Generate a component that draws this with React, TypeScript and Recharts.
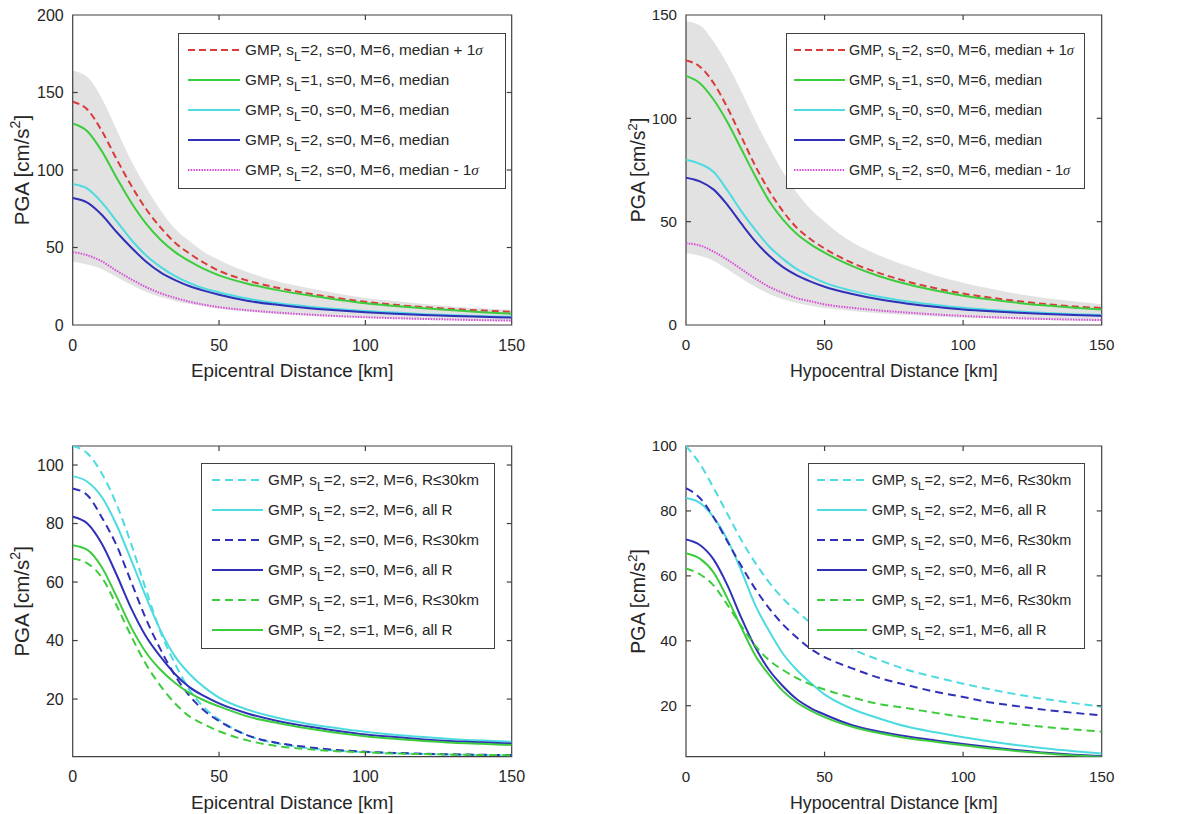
import { Area, ComposedChart, Legend, Line, ReferenceArea, ReferenceLine, XAxis, YAxis } from "recharts";

const FONT = '"Liberation Sans", Arial, Helvetica, sans-serif';
const AXIS_COLOR = "#404040";
const TEXT_COLOR = "#262626";
const BAND_COLOR = "#e2e2e2";

const RED = "#d93a3a";
const GREEN = "#3dcc3d";
const CYAN = "#4ddbe0";
const BLUE = "#3030b8";
const MAGENTA = "#d84dd8";

// distance in km, shared by all four panels
const DIST = [0, 5, 10, 15, 20, 25, 30, 35, 40, 45, 50, 60, 70, 80, 90, 100, 110, 120, 130, 140, 150];

const X_TICKS = [0, 50, 100, 150];
const X_DOMAIN: [number, number] = [0, 150];

// top left: epicentral distance, median curves and +-1 sigma band
const EPI_PLUS = [144, 139, 125, 107, 90, 75, 63, 53, 46, 40, 35, 28.5, 24, 20.5, 17.5, 15, 13, 11.5, 10.3, 9.3, 8.5];
const EPI_SL1 = [130, 125, 112, 95, 79, 65.5, 55, 47, 41, 36, 32, 26.5, 22.5, 19.3, 16.5, 14, 12.3, 10.8, 9.5, 8.3, 7.3];
const EPI_SL0 = [91, 88, 79, 67, 55, 45, 37.5, 31.5, 27, 23.5, 21, 17, 14, 12, 10.3, 9, 8, 7, 6.3, 5.7, 5.3];
const EPI_SL2 = [82, 79, 71, 60, 50, 41, 34, 29, 25, 22, 19.5, 15.5, 13, 11, 9.5, 8.2, 7.2, 6.4, 5.8, 5.3, 4.8];
const EPI_MINUS = [47, 45, 41, 35, 29.5, 24.5, 20.5, 17.5, 15, 13, 11.5, 9.5, 8, 6.8, 5.8, 5, 4.4, 3.9, 3.5, 3.1, 2.8];
const EPI_BAND_HI = [164, 160, 146, 126, 106, 89, 74, 62, 54, 47, 42, 34, 28, 24, 20.5, 17.5, 15.5, 13.5, 12, 10.8, 9.8];
const EPI_BAND_LO = [41, 39, 36, 31, 26, 21.5, 18, 15.5, 13.5, 12, 10.5, 8.5, 7, 6, 5.2, 4.5, 4, 3.5, 3.1, 2.8, 2.5];

// top right: hypocentral distance
const HYP_PLUS = [128, 125, 117, 105, 91, 77, 65, 55, 47, 41.5, 37, 30, 25, 21, 17.8, 15.2, 13.2, 11.5, 10.1, 9, 8.2];
const HYP_SL1 = [120.5, 117, 109, 98, 85, 72, 60, 51, 44, 39, 35, 28.5, 23.5, 19.7, 16.7, 14.2, 12.3, 10.7, 9.4, 8.4, 7.5];
const HYP_SL0 = [80, 78, 74, 65, 55, 46, 38, 32, 27, 23.5, 20.5, 16.5, 13.5, 11.4, 9.7, 8.3, 7.3, 6.5, 5.8, 5.2, 4.8];
const HYP_SL2 = [71.3, 69.5, 65.5, 58, 49, 40.5, 33.5, 28, 24, 21, 18.5, 15, 12.3, 10.3, 8.8, 7.5, 6.6, 5.9, 5.3, 4.8, 4.4];
const HYP_MINUS = [39.5, 38.5, 35.5, 31.5, 27, 22.5, 18.5, 15.5, 13, 11.5, 10, 8.3, 7, 6, 5.1, 4.4, 3.8, 3.3, 2.9, 2.6, 2.4];
const HYP_BAND_HI = [147, 145, 137, 126, 113, 99, 86, 74, 64, 56, 50, 40, 33.5, 28.5, 24, 20.5, 17.5, 15, 13, 11.5, 10];
const HYP_BAND_LO = [34.7, 33.5, 31, 27, 22.5, 18.5, 15, 12.5, 10.7, 9.3, 8.2, 6.8, 5.7, 4.8, 4.1, 3.5, 3.1, 2.7, 2.4, 2.2, 2];

// bottom left: epicentral, fitted on R<=30km vs all R
const EPI_S2_R30 = [106.5, 104, 97, 86.5, 73, 57.5, 43, 32, 23, 17, 13, 7.5, 4.8, 3.3, 2.4, 1.9, 1.5, 1.2, 1, 0.9, 0.8];
const EPI_S2_ALL = [96.2, 94.3, 89, 79.5, 67.5, 55, 43.5, 34.5, 28.5, 24, 20.5, 16.3, 13.6, 11.6, 10.1, 8.8, 7.8, 7, 6.3, 5.8, 5.4];
const EPI_S0_R30 = [92, 89.7, 82, 72.5, 60, 47.5, 37, 28, 21, 16, 12.5, 7.5, 5, 3.6, 2.6, 2, 1.6, 1.3, 1.1, 0.95, 0.85];
const EPI_S0_ALL = [82.3, 80, 73, 62.5, 51, 41.5, 34.5, 28.5, 24, 21, 18.5, 15, 12.5, 10.7, 9.2, 7.9, 7, 6.2, 5.6, 5.2, 4.8];
const EPI_S1_R30 = [68, 66.4, 61.5, 52, 41.5, 32, 24.5, 18.5, 14, 11.3, 9, 5.8, 3.9, 2.9, 2.2, 1.8, 1.4, 1.2, 1, 0.9, 0.8];
const EPI_S1_ALL = [72.6, 71, 65, 55, 44.5, 36, 30, 25.5, 22, 19.5, 17.5, 14, 11.8, 10, 8.5, 7.3, 6.4, 5.7, 5.1, 4.7, 4.3];

// bottom right: hypocentral
const HYP_S2_R30 = [100, 94.5, 87, 79, 71, 64, 58, 53, 49, 45.5, 42.5, 37.5, 34, 31, 28.8, 26.8, 25, 23.4, 22, 20.8, 19.7];
const HYP_S2_ALL = [84, 82.5, 78, 71, 61.5, 51, 43, 36, 31, 27, 23.5, 19, 16, 13.5, 11.8, 10.3, 9, 7.8, 6.8, 6, 5.3];
const HYP_S0_R30 = [87, 84, 78, 70.5, 63, 56, 50, 45, 41, 37.5, 35, 31.5, 28.5, 26.3, 24.3, 22.7, 21, 19.8, 18.7, 17.8, 17];
const HYP_S0_ALL = [71.2, 69.5, 65, 57, 47, 38, 31, 26, 22, 19.3, 17.3, 14, 12, 10.5, 9.3, 8.2, 7.2, 6.3, 5.5, 4.9, 4.5];
const HYP_S1_R30 = [62.3, 60.5, 57, 51, 44.5, 38.5, 34, 31, 28.5, 26.5, 25, 22.5, 20.5, 19.2, 17.8, 16.5, 15.3, 14.3, 13.4, 12.7, 12];
const HYP_S1_ALL = [67, 65.3, 61, 53, 44, 35.5, 29.5, 24.5, 21, 18.5, 16.5, 13.5, 11.5, 10, 8.9, 7.8, 6.8, 6, 5.3, 4.7, 4.3];

type Series = { key: string; values: number[]; color: string; dash?: string; label: string };

const TOP_LEGEND = [
  "GMP, s_L=2, s=0, M=6, median + 1σ",
  "GMP, s_L=1, s=0, M=6, median",
  "GMP, s_L=0, s=0, M=6, median",
  "GMP, s_L=2, s=0, M=6, median",
  "GMP, s_L=2, s=0, M=6, median - 1σ",
];

const BOTTOM_LEGEND = [
  "GMP, s_L=2, s=2, M=6, R≤30km",
  "GMP, s_L=2, s=2, M=6, all R",
  "GMP, s_L=2, s=0, M=6, R≤30km",
  "GMP, s_L=2, s=0, M=6, all R",
  "GMP, s_L=2, s=1, M=6, R≤30km",
  "GMP, s_L=2, s=1, M=6, all R",
];

const RED_DASH = "7 4";
const DASH = "8 5";
const DOT = "1.5 1.2";
const TICK_PX = 5;

function topSeries(vals: number[][]): Series[] {
  const styles = [
    { color: RED, dash: RED_DASH },
    { color: GREEN },
    { color: CYAN },
    { color: BLUE },
    { color: MAGENTA, dash: DOT },
  ];
  return vals.map((v, i) => ({ key: `s${i}`, values: v, label: TOP_LEGEND[i], ...styles[i] }));
}

function bottomSeries(vals: number[][]): Series[] {
  const styles = [
    { color: CYAN, dash: DASH },
    { color: CYAN },
    { color: BLUE, dash: DASH },
    { color: BLUE },
    { color: GREEN, dash: DASH },
    { color: GREEN },
  ];
  return vals.map((v, i) => ({ key: `s${i}`, values: v, label: BOTTOM_LEGEND[i], ...styles[i] }));
}

type Panel = {
  left: number;
  top: number;
  width: number;
  height: number;
  margin: { top: number; right: number; bottom: number; left: number };
  xLabel: string;
  yDomain: [number, number];
  yTicks: number[];
  band?: { lo: number[]; hi: number[] };
  series: Series[];
  legend: { left: number; top: number; width: number; height: number; lineLeft: number; lineLen: number; gap: number };
  scale: number;
  yTitleOff: number;
};

const Y_AXIS_W = 60;
const X_AXIS_H = 50;

const PANELS: Panel[] = [
  {
    left: 0, top: 0, width: 596, height: 410,
    margin: { top: 15, right: 84.3, bottom: 35, left: 12.7 },
    xLabel: "Epicentral Distance [km]",
    yDomain: [0, 200], yTicks: [0, 50, 100, 150, 200],
    band: { lo: EPI_BAND_LO, hi: EPI_BAND_HI },
    series: topSeries([EPI_PLUS, EPI_SL1, EPI_SL0, EPI_SL2, EPI_MINUS]),
    legend: { left: 178.3, top: 33.3, width: 327.4, height: 156, lineLeft: 9.7, lineLen: 52, gap: 5 },
    scale: 1, yTitleOff: 44,
  },
  {
    left: 596, top: 0, width: 596, height: 410,
    margin: { top: 15, right: 90.3, bottom: 35, left: 30 },
    xLabel: "Hypocentral Distance [km]",
    yDomain: [0, 150], yTicks: [0, 50, 100, 150],
    band: { lo: HYP_BAND_LO, hi: HYP_BAND_HI },
    series: topSeries([HYP_PLUS, HYP_SL1, HYP_SL0, HYP_SL2, HYP_MINUS]),
    legend: { left: 189.7, top: 33.3, width: 299.3, height: 156, lineLeft: 8.3, lineLen: 51, gap: 4 },
    scale: 0.947, yTitleOff: 41,
  },
  {
    left: 0, top: 410, width: 596, height: 404,
    margin: { top: 36, right: 84.3, bottom: 7.3, left: 12.7 },
    xLabel: "Epicentral Distance [km]",
    yDomain: [0.3, 106.5], yTicks: [20, 40, 60, 80, 100],
    series: bottomSeries([EPI_S2_R30, EPI_S2_ALL, EPI_S0_R30, EPI_S0_ALL, EPI_S1_R30, EPI_S1_ALL]),
    legend: { left: 201, top: 53.3, width: 294, height: 186, lineLeft: 10.7, lineLen: 51.3, gap: 5 },
    scale: 1, yTitleOff: 44,
  },
  {
    left: 596, top: 410, width: 596, height: 404,
    margin: { top: 36, right: 90.3, bottom: 7.3, left: 30 },
    xLabel: "Hypocentral Distance [km]",
    yDomain: [4.3, 100], yTicks: [20, 40, 60, 80, 100],
    series: bottomSeries([HYP_S2_R30, HYP_S2_ALL, HYP_S0_R30, HYP_S0_ALL, HYP_S1_R30, HYP_S1_ALL]),
    legend: { left: 211.7, top: 53.3, width: 277.3, height: 186, lineLeft: 9, lineLen: 50, gap: 5 },
    scale: 0.947, yTitleOff: 41,
  },
];

function LegendLabel({ text }: { text: string }) {
  const [head, rest] = text.split("_L");
  const hasSigma = rest.endsWith("σ");
  const body = hasSigma ? rest.slice(0, -1) : rest;
  return (
    <span style={{ whiteSpace: "pre" }}>
      {head}
      <span style={{ fontSize: "0.8em", position: "relative", top: "0.45em", lineHeight: 0 }}>L</span>
      {body}
      {hasSigma && (
        <span style={{ fontFamily: '"Liberation Serif", "DejaVu Serif", serif', fontStyle: "italic" }}>σ</span>
      )}
    </span>
  );
}

function LegendBox({ panel }: { panel: Panel }) {
  const lg = panel.legend;
  const fs = 15.3 * panel.scale;
  return (
    <div
      style={{
        position: "relative",
        width: lg.width,
        height: lg.height,
        boxSizing: "border-box",
        border: `1px solid ${AXIS_COLOR}`,
        background: "#fff",
        fontFamily: FONT,
        fontSize: fs,
        color: TEXT_COLOR,
      }}
    >
      {panel.series.map((s, i) => (
        <div
          key={s.key}
          style={{
            position: "absolute",
            left: lg.lineLeft - 1,
            top: 0.7 + 30 * i,
            height: 30,
            display: "flex",
            alignItems: "center",
          }}
        >
          <svg width={lg.lineLen} height={6} style={{ display: "block" }}>
            <line x1={0} x2={lg.lineLen} y1={3} y2={3} stroke={s.color} strokeWidth={2} strokeDasharray={s.dash} />
          </svg>
          <div style={{ marginLeft: lg.gap, lineHeight: 1 }}>
            <LegendLabel text={s.label} />
          </div>
        </div>
      ))}
    </div>
  );
}

function BottomTick(props: any) {
  const { x, y, payload, fs } = props;
  return (
    <text x={x} y={y + 20 + fs * 0.36} textAnchor="middle" fontSize={fs} fill={TEXT_COLOR}>
      {payload.value}
    </text>
  );
}

function LeftTick(props: any) {
  const { x, y, payload, fs } = props;
  return (
    <text x={x - 9} y={y + fs * 0.36} textAnchor="end" fontSize={fs} fill={TEXT_COLOR}>
      {payload.value}
    </text>
  );
}

function XTitle(props: any) {
  const { viewBox, text, fs } = props;
  const { x, y, width } = viewBox;
  return (
    <text x={x + width / 2} y={y + 52} textAnchor="middle" fontSize={fs} fill={TEXT_COLOR}>
      {text}
    </text>
  );
}

function YTitle(props: any) {
  const { viewBox, fs, off } = props;
  const { x, y, width, height } = viewBox;
  const cx = x + width - off;
  const cy = y + height / 2;
  return (
    <text transform={`rotate(-90 ${cx} ${cy})`} x={cx} y={cy} textAnchor="middle" fontSize={fs} fill={TEXT_COLOR}>
      PGA [cm/s
      <tspan dy={-fs * 0.42} fontSize={fs * 0.7}>2</tspan>
      <tspan dy={fs * 0.42}>]</tspan>
    </text>
  );
}

function PanelChart({ panel }: { panel: Panel }) {
  const rows = DIST.map((d, i) => {
    const row: Record<string, any> = { d };
    if (panel.band) row.band = [panel.band.lo[i], panel.band.hi[i]];
    panel.series.forEach((s) => {
      row[s.key] = s.values[i];
    });
    return row;
  });
  const tickFs = 16 * panel.scale;
  const titleFs = 18.8 * panel.scale;

  // inward tick length (MATLAB style) expressed in data units of each axis
  const plotW = panel.width - panel.margin.left - panel.margin.right - Y_AXIS_W;
  const plotH = panel.height - panel.margin.top - panel.margin.bottom - X_AXIS_H;
  const [y0, y1] = panel.yDomain;
  const [x0, x1] = X_DOMAIN;
  const dy = (TICK_PX * (y1 - y0)) / plotH;
  const dx = (TICK_PX * (x1 - x0)) / plotW;
  const innerX = X_TICKS.filter((t) => t > x0 && t < x1);
  const innerY = panel.yTicks.filter((t) => t > y0 && t < y1);
  const tickSegments: { x: number; y: number }[][] = [
    ...innerX.map((t) => [{ x: t, y: y0 }, { x: t, y: y0 + dy }]),
    ...innerX.map((t) => [{ x: t, y: y1 }, { x: t, y: y1 - dy }]),
    ...innerY.map((t) => [{ x: x0, y: t }, { x: x0 + dx, y: t }]),
    ...innerY.map((t) => [{ x: x1, y: t }, { x: x1 - dx, y: t }]),
  ];

  return (
    <div style={{ position: "absolute", left: panel.left, top: panel.top }}>
      <ComposedChart width={panel.width} height={panel.height} data={rows} margin={panel.margin}>
        <XAxis
          dataKey="d"
          type="number"
          domain={X_DOMAIN}
          ticks={X_TICKS}
          interval={0}
          allowDataOverflow
          height={X_AXIS_H}
          tickSize={0}
          tickMargin={0}
          tickLine={false}
          axisLine={false}
          tick={(p: any) => <BottomTick {...p} fs={tickFs} />}
          label={<XTitle text={panel.xLabel} fs={titleFs} />}
        />
        <YAxis
          type="number"
          domain={panel.yDomain}
          ticks={panel.yTicks}
          interval={0}
          allowDataOverflow
          width={Y_AXIS_W}
          tickSize={0}
          tickMargin={0}
          tickLine={false}
          axisLine={false}
          tick={(p: any) => <LeftTick {...p} fs={tickFs} />}
          label={<YTitle fs={20.5 * panel.scale} off={panel.yTitleOff} />}
        />
        {panel.band && (
          <Area
            type="monotone"
            dataKey="band"
            stroke="none"
            fill={BAND_COLOR}
            fillOpacity={1}
            isAnimationActive={false}
            activeDot={false}
          />
        )}
        {panel.series.map((s) => (
          <Line
            key={s.key}
            type="monotone"
            dataKey={s.key}
            stroke={s.color}
            strokeWidth={2}
            strokeDasharray={s.dash}
            dot={false}
            activeDot={false}
            isAnimationActive={false}
          />
        ))}
        {tickSegments.map((seg, i) => (
          <ReferenceLine
            key={`tk${i}`}
            segment={seg}
            stroke={AXIS_COLOR}
            strokeWidth={1.2}
            ifOverflow="visible"
          />
        ))}
        <ReferenceArea
          x1={x0}
          x2={x1}
          y1={y0}
          y2={y1}
          fill="none"
          fillOpacity={0}
          stroke={AXIS_COLOR}
          strokeOpacity={1}
          strokeWidth={1.2}
          ifOverflow="visible"
        />
        <Legend
          layout="vertical"
          align="center"
          verticalAlign="middle"
          wrapperStyle={{ left: panel.legend.left, top: panel.legend.top, width: panel.legend.width }}
          content={() => <LegendBox panel={panel} />}
        />
      </ComposedChart>
    </div>
  );
}

export default function App() {
  return (
    <div
      style={{
        position: "absolute",
        left: 0,
        top: 0,
        width: 1192,
        height: 814,
        background: "#fff",
        fontFamily: FONT,
      }}
    >
      {PANELS.map((p, i) => (
        <PanelChart key={i} panel={p} />
      ))}
    </div>
  );
}
